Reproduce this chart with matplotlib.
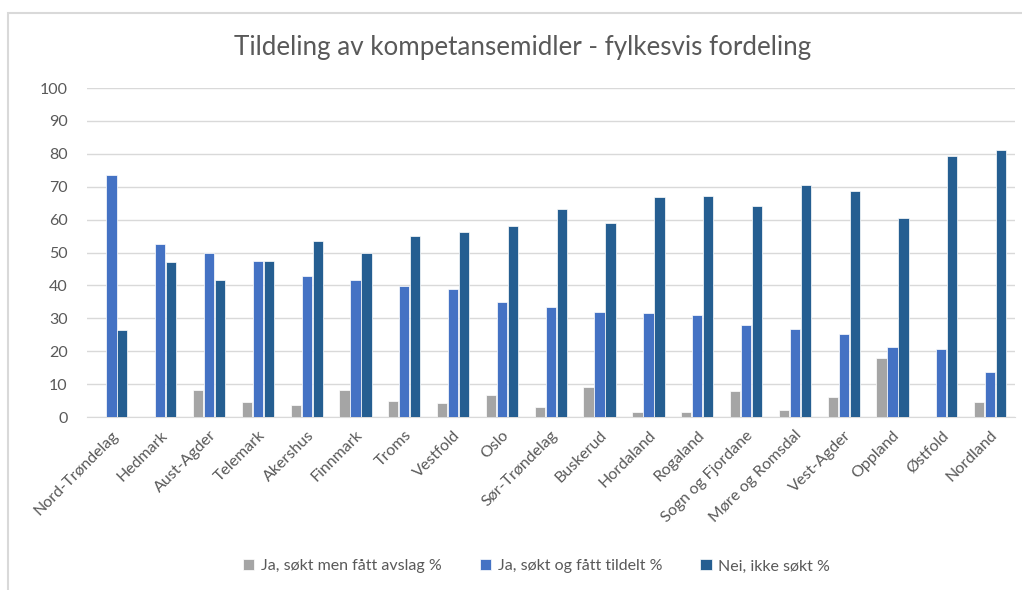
import matplotlib
matplotlib.use("Agg")
import matplotlib.pyplot as plt
from matplotlib.patches import Rectangle
import numpy as np

plt.rcParams['font.family'] = ['Lato', 'DejaVu Sans']

# data
fylker = ['Nord-Trøndelag', 'Hedmark', 'Aust-Agder', 'Telemark', 'Akershus',
          'Finnmark', 'Troms', 'Vestfold', 'Oslo', 'Sør-Trøndelag', 'Buskerud',
          'Hordaland', 'Rogaland', 'Sogn og Fjordane', 'Møre og Romsdal',
          'Vest-Agder', 'Oppland', 'Østfold', 'Nordland']
avslag = [0, 0, 8.1, 4.6, 3.5, 8.1, 4.9, 4.4, 6.6, 3.0, 9.0,
          1.6, 1.6, 7.8, 2.2, 6.1, 17.9, 0, 4.6]
tildelt = [73.5, 52.6, 49.8, 47.5, 43.0, 41.5, 39.8, 39.0, 35.1, 33.3, 31.8,
           31.5, 30.9, 27.9, 26.8, 25.1, 21.2, 20.6, 13.8]
ikke_sokt = [26.5, 47.2, 41.5, 47.5, 53.4, 49.8, 54.9, 56.3, 58.2, 63.1, 59.0,
             66.8, 67.3, 64.1, 70.6, 68.8, 60.5, 79.2, 81.2]
serier = ['Ja, søkt men fått avslag %', 'Ja, søkt og fått tildelt %', 'Nei, ikke søkt %']
farger = ['#A5A5A5', '#4472C4', '#255E91']

fig = plt.figure(figsize=(10.22, 5.90), dpi=100)
ax = fig.add_axes([0.0851, 0.2932, 0.9076, 0.5576])

# outer chart border (Excel-style)
fig.patches.append(Rectangle((8 / 1022, -0.05), 1.1, 1 - 13 / 590 + 0.05,
                             transform=fig.transFigure, fill=False,
                             edgecolor='#D9D9D9', linewidth=1.5))

x = np.arange(len(fylker))
w = 0.21
for i, (vals, c, lab) in enumerate(zip([avslag, tildelt, ikke_sokt], farger, serier)):
    ax.bar(x + (i - 1) * 0.225, vals, w, color=c, label=lab,
           edgecolor='white', linewidth=0.5, zorder=3)

ax.set_xlim(-0.5, len(fylker) - 0.5)
ax.set_ylim(0, 100)
ax.set_yticks(range(0, 101, 10))
ax.yaxis.grid(True, color='#D9D9D9', linewidth=1, zorder=0)
for s in ['top', 'right', 'left']:
    ax.spines[s].set_visible(False)
ax.spines['bottom'].set_color('#D9D9D9')
ax.tick_params(axis='both', length=0, colors='#595959', labelsize=11.5)
ax.tick_params(axis='y', pad=14)
ax.set_xticks(x)
ax.set_xticklabels(fylker, rotation=45, ha='right', rotation_mode='anchor')
ax.tick_params(axis='x', pad=8)

fig.text(0.511, 0.92, 'Tildeling av kompetansemidler - fylkesvis fordeling',
         ha='center', va='center', fontsize=18.7, color='#595959')

fig.legend(loc='center', bbox_to_anchor=(0.525, 0.04), ncol=3, frameon=False,
           fontsize=11.5, labelcolor='#595959', handlelength=0.7, handleheight=0.7,
           handletextpad=0.4, columnspacing=2.4)

fig.savefig('out.png', dpi=100)
